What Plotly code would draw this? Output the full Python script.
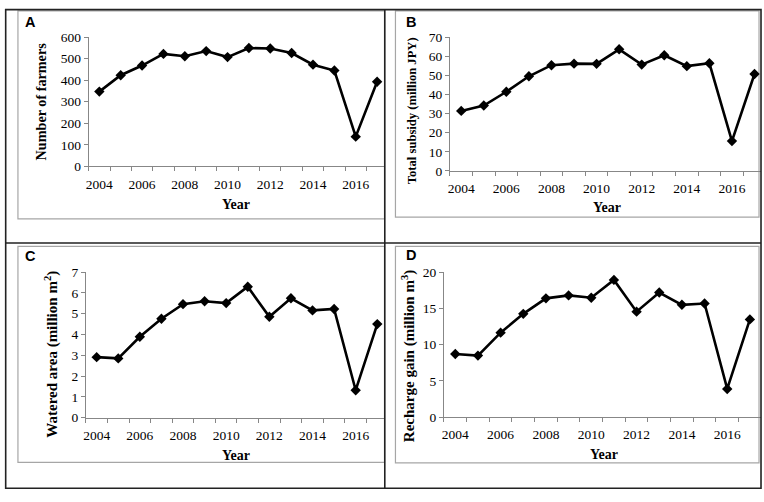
import plotly.graph_objects as go

years = list(range(2004, 2018))
farmers = [347, 423, 468, 522, 511, 535, 507, 549, 547, 526, 472, 445, 138, 393]
subsidy = [31.4, 34.2, 41.4, 49.5, 55.3, 56.1, 56.0, 63.6, 55.6, 60.5, 54.8, 56.3, 15.6, 50.7]
watered = [2.91, 2.85, 3.89, 4.76, 5.46, 5.60, 5.51, 6.30, 4.85, 5.74, 5.16, 5.23, 1.32, 4.50]
recharge = [8.70, 8.48, 11.65, 14.24, 16.38, 16.79, 16.47, 18.93, 14.55, 17.19, 15.49, 15.67, 3.88, 13.48]
label_years = [2004, 2006, 2008, 2010, 2012, 2014, 2016]
minor_ticks = [y - 0.5 for y in years] + [2017.5]

W, H = 764, 502
def px(p): return p / W
def py(p): return 1 - p / H

AX = "#878787"
FRAME = "#a6a6a6"
SERIF = "Liberation Serif"
TICKFONT = dict(family=SERIF, size=13.5, color="black")

panels = [
    # data, x0px, x1px, ybot, ytop, yrange, dtick, xend
    (farmers, 86.0, 383.0, 164.3, 31.0, [0, 600], 100, 2003.5 + (383 - 86) / 21.45),
    (subsidy, 448.7, 761.0, 169.0, 31.0, [0, 70], 10, 2003.5 + (761 - 448.7) / 22.65),
    (watered, 83.2, 383.0, 423.3, 273.3, [0, 7], 1, 2003.5 + (383 - 83.2) / 21.67),
    (recharge, 442.7, 761.0, 422.7, 273.3, [0, 20], 5, 2003.5 + (761 - 442.7) / 22.75),
]

fig = go.Figure()
layout = {}
for i, (vals, x0, x1, yb, yt, yr, dt, xend) in enumerate(panels, start=1):
    xa = "x" if i == 1 else f"x{i}"
    ya = "y" if i == 1 else f"y{i}"
    fig.add_trace(go.Scatter(
        x=years, y=vals, xaxis=xa, yaxis=ya, mode="lines+markers",
        line=dict(color="black", width=2.6),
        marker=dict(symbol="diamond", size=8, color="black"),
        cliponaxis=False, showlegend=False, hoverinfo="x+y"))
    layout["xaxis" if i == 1 else f"xaxis{i}"] = dict(
        domain=[px(x0), px(x1)], anchor=ya, range=[2003.5, xend],
        tickvals=label_years, ticktext=[str(v) for v in label_years],
        ticks="", ticklabelstandoff=5, showline=True, linecolor=AX, linewidth=1,
        showgrid=False, zeroline=False, tickfont=TICKFONT,
        minor=dict(tickvals=minor_ticks, ticks="outside", ticklen=4,
                   tickcolor=AX, tickwidth=1, showgrid=False),
        fixedrange=True)
    layout["yaxis" if i == 1 else f"yaxis{i}"] = dict(
        domain=[py(yb), py(yt)], anchor=xa, range=yr, dtick=dt, tick0=0,
        ticks="outside", ticklen=4, tickcolor=AX, tickwidth=1,
        showline=True, linecolor=AX, linewidth=1, showgrid=False,
        zeroline=False, tickfont=TICKFONT, fixedrange=True)

fig.update_layout(**layout)

shapes = []
# gray chart-area frames
for (x0, y0, x1, y1) in [(15, 4, 383, 218.3), (394, 4, 759, 216.7),
                         (15, 246.7, 383, 469.3), (394, 246.7, 759, 470)]:
    shapes.append(dict(type="rect", xref="paper", yref="paper",
                       x0=px(x0), x1=px(x1), y0=py(y1), y1=py(y0),
                       line=dict(color=FRAME, width=1.2), layer="below"))
# black outer box and dividers
shapes.append(dict(type="rect", xref="paper", yref="paper",
                   x0=px(2.7), x1=px(761), y0=py(496), y1=py(2.7),
                   line=dict(color="#222222", width=1.6), layer="above"))
shapes.append(dict(type="line", xref="paper", yref="paper",
                   x0=px(383.3), x1=px(383.3), y0=py(496), y1=py(2.7),
                   line=dict(color="#222222", width=1.6), layer="above"))
shapes.append(dict(type="line", xref="paper", yref="paper",
                   x0=px(2.7), x1=px(761), y0=py(243.3), y1=py(243.3),
                   line=dict(color="#222222", width=1.6), layer="above"))

ann = []
for letter, (cx, cy) in zip("ABCD", [(27.5, 15), (409.5, 15), (27.5, 256.5), (409.5, 255.5)]):
    ann.append(dict(text=f"<b>{letter}</b>", x=px(cx), y=py(cy), xref="paper", yref="paper",
                    showarrow=False, xanchor="center", yanchor="middle",
                    font=dict(family="Liberation Sans", size=14.5, color="black")))
ytitles = [
    ("<b>Number of farmers</b>", 38, 97.5, 14.2),
    ("<b>Total subsidy (million JPY)</b>", 410, 107, 12.6),
    ("<b>Watered area (million m<sup>2</sup>)</b>", 49, 357.5, 15),
    ("<b>Recharge gain (million m<sup>3</sup>)</b>", 407, 359.5, 15),
]
for t, cx, cy, s in ytitles:
    ann.append(dict(text=t, x=px(cx), y=py(cy), xref="paper", yref="paper",
                    showarrow=False, textangle=-90, xanchor="center", yanchor="middle",
                    font=dict(family=SERIF, size=s, color="black")))
for cx, cy in [(234, 204), (606, 207), (234, 462), (603, 461)]:
    ann.append(dict(text="<b>Year</b>", x=px(cx), y=py(cy), xref="paper", yref="paper",
                    showarrow=False, xanchor="center", yanchor="middle",
                    font=dict(family=SERIF, size=14, color="black")))

fig.update_layout(width=W, height=H, margin=dict(l=0, r=0, t=0, b=0),
                  paper_bgcolor="white", plot_bgcolor="white",
                  shapes=shapes, annotations=ann)
fig.write_html("out.html", config={"displayModeBar": False},
               post_script="document.body.style.margin='0';document.body.style.overflow='hidden';")
